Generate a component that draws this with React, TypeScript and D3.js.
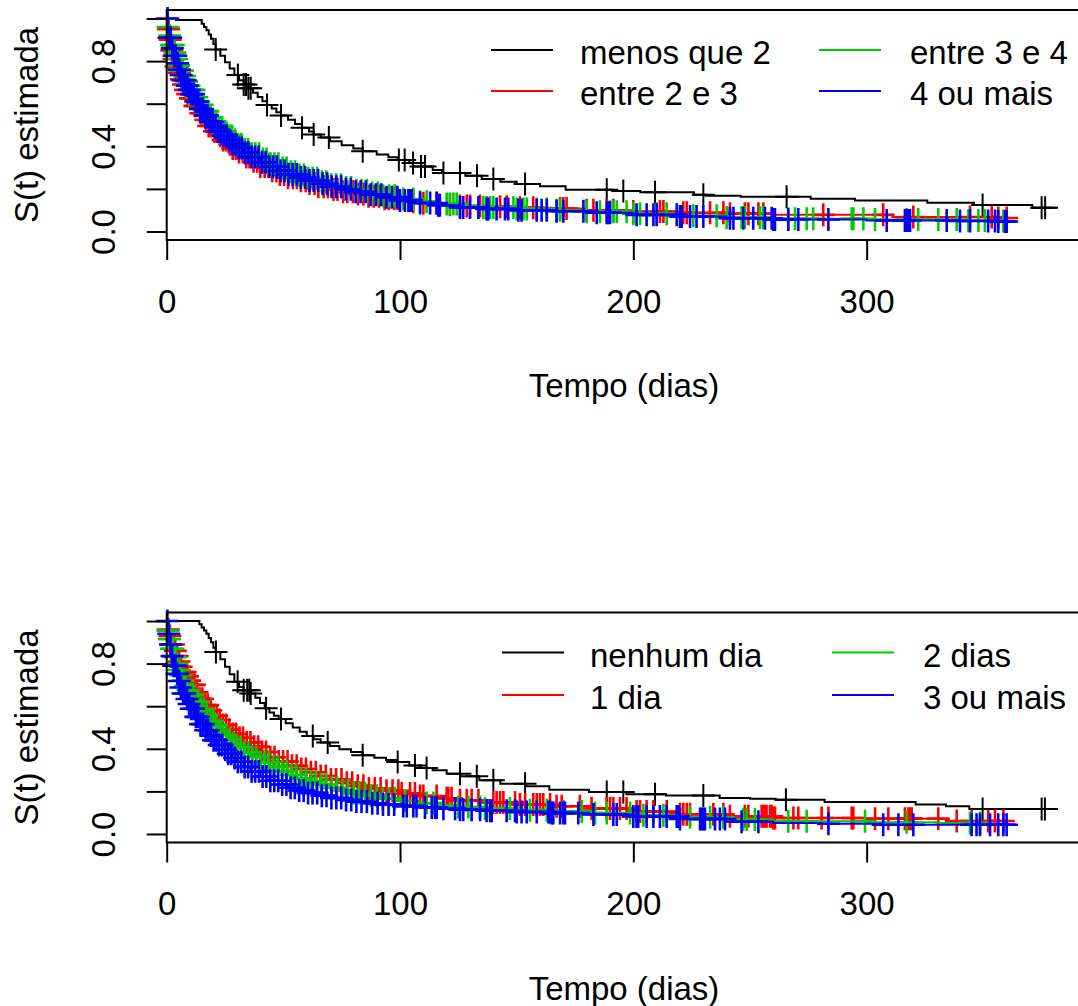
import React, { useRef, useEffect } from 'react';
import * as d3 from 'd3';

// ==================== DATA ====================
const X_TICKS = [0, 100, 200, 300];
const Y_TICKS = [0, 0.2, 0.4, 0.6, 0.8, 1.0];
const Y_LABELED = [0, 0.4, 0.8]; // R drops the overlapping ones
const X_MAX = 392;

const COLORS = ['#000000', '#FF0000', '#00CD00', '#0000FF'];
const TOP_LABELS = ['menos que 2', 'entre 2 e 3', 'entre 3 e 4', '4 ou mais'];
const BOTTOM_LABELS = ['nenhum dia', '1 dia', '2 dias', '3 ou mais'];

// Kaplan-Meier steps, [tempo, S(t)]
const TOP_BLACK = [[0, 1], [4, 0.993], [15, 0.975], [16, 0.96], [17, 0.945], [18, 0.925], [19, 0.905], [20, 0.88], [21, 0.855], [23, 0.825], [25, 0.795], [27, 0.765], [29, 0.735], [31, 0.71], [33, 0.69], [35, 0.672], [37, 0.652], [39, 0.632], [41, 0.612], [43, 0.594], [45, 0.577], [47, 0.56], [49, 0.545], [52, 0.525], [55, 0.505], [58, 0.487], [61, 0.469], [63, 0.455], [66, 0.441], [70, 0.424], [75, 0.405], [80, 0.39], [84, 0.377], [90, 0.362], [95, 0.348], [99, 0.336], [104, 0.322], [109, 0.305], [114, 0.289], [118, 0.275], [128, 0.262], [135, 0.247], [143, 0.234], [150, 0.223], [160, 0.212], [171, 0.196], [191, 0.19], [203, 0.184], [226, 0.173], [231, 0.168], [246, 0.163], [276, 0.154], [295, 0.146], [326, 0.135], [346, 0.124], [371, 0.112]];
const TOP_RED = [[0, 1], [0.5, 0.95], [1, 0.9], [2, 0.85], [3, 0.81], [4, 0.775], [5, 0.745], [6, 0.715], [7, 0.69], [8, 0.665], [9, 0.645], [10, 0.625], [12, 0.59], [14, 0.555], [16, 0.525], [18, 0.495], [20, 0.47], [22, 0.45], [24, 0.43], [26, 0.41], [28, 0.39], [30, 0.373], [33, 0.35], [36, 0.33], [40, 0.305], [44, 0.285], [48, 0.267], [52, 0.252], [56, 0.238], [60, 0.225], [65, 0.21], [70, 0.197], [75, 0.186], [80, 0.176], [86, 0.165], [92, 0.154], [100, 0.14], [108, 0.132], [116, 0.125], [125, 0.12], [135, 0.116], [150, 0.112], [165, 0.108], [180, 0.1], [200, 0.094], [220, 0.088], [240, 0.083], [260, 0.078], [311, 0.068], [355, 0.063]];
const TOP_GREEN = [[0, 1], [0.5, 0.96], [1, 0.92], [2, 0.875], [3, 0.84], [4, 0.81], [5, 0.78], [6, 0.755], [7, 0.73], [8, 0.705], [9, 0.685], [10, 0.665], [12, 0.63], [14, 0.595], [16, 0.565], [18, 0.535], [20, 0.51], [22, 0.49], [24, 0.47], [26, 0.45], [28, 0.43], [30, 0.41], [33, 0.385], [36, 0.365], [40, 0.34], [44, 0.318], [48, 0.298], [52, 0.28], [56, 0.265], [60, 0.25], [65, 0.234], [70, 0.219], [75, 0.206], [80, 0.194], [86, 0.181], [92, 0.168], [100, 0.152], [108, 0.14], [116, 0.129], [125, 0.12], [135, 0.113], [150, 0.106], [165, 0.1], [180, 0.093], [200, 0.083], [220, 0.074], [240, 0.066], [260, 0.06], [300, 0.056], [340, 0.052], [358, 0.049]];
const TOP_BLUE = [[0, 1], [0.5, 0.955], [1, 0.91], [2, 0.86], [3, 0.825], [4, 0.79], [5, 0.76], [6, 0.735], [7, 0.71], [8, 0.685], [9, 0.665], [10, 0.645], [12, 0.61], [14, 0.575], [16, 0.545], [18, 0.515], [20, 0.49], [22, 0.47], [24, 0.45], [26, 0.43], [28, 0.41], [30, 0.392], [33, 0.37], [36, 0.35], [40, 0.325], [44, 0.304], [48, 0.285], [52, 0.268], [56, 0.253], [60, 0.239], [65, 0.224], [70, 0.21], [75, 0.198], [80, 0.186], [86, 0.173], [92, 0.161], [100, 0.146], [108, 0.134], [116, 0.123], [125, 0.113], [135, 0.106], [150, 0.1], [165, 0.095], [180, 0.088], [200, 0.078], [220, 0.07], [240, 0.062], [260, 0.056], [300, 0.052], [340, 0.049], [356, 0.047]];
const TOP_ENDS = [382, 363, 364, 364];

const BOTTOM_BLACK = [[0, 1], [14, 0.985], [15, 0.97], [16, 0.955], [17, 0.94], [18, 0.92], [19, 0.9], [20, 0.875], [21, 0.855], [23, 0.82], [25, 0.785], [27, 0.75], [29, 0.715], [31, 0.69], [33, 0.675], [36, 0.66], [38, 0.64], [40, 0.615], [42, 0.59], [44, 0.57], [46, 0.555], [48, 0.54], [51, 0.52], [54, 0.5], [57, 0.48], [60, 0.46], [63, 0.445], [66, 0.43], [70, 0.413], [74, 0.398], [79, 0.385], [84, 0.37], [89, 0.358], [94, 0.347], [99, 0.338], [104, 0.322], [109, 0.31], [114, 0.299], [120, 0.283], [126, 0.271], [134, 0.252], [143, 0.236], [154, 0.224], [164, 0.208], [181, 0.197], [197, 0.186], [214, 0.181], [237, 0.169], [250, 0.166], [261, 0.161], [282, 0.15], [321, 0.139], [334, 0.13], [344, 0.117]];
const BOTTOM_RED = [[0, 1], [0.5, 0.96], [1, 0.93], [2, 0.89], [3, 0.86], [4, 0.835], [5, 0.81], [6, 0.785], [7, 0.76], [8, 0.74], [9, 0.72], [10, 0.7], [12, 0.665], [14, 0.635], [16, 0.605], [18, 0.58], [20, 0.555], [22, 0.535], [24, 0.512], [26, 0.49], [28, 0.47], [30, 0.452], [33, 0.43], [36, 0.41], [40, 0.385], [44, 0.36], [48, 0.34], [52, 0.32], [56, 0.305], [60, 0.29], [65, 0.272], [70, 0.256], [75, 0.24], [80, 0.226], [86, 0.213], [92, 0.203], [100, 0.19], [108, 0.178], [116, 0.168], [125, 0.158], [135, 0.148], [150, 0.138], [165, 0.13], [180, 0.12], [200, 0.105], [220, 0.093], [240, 0.083], [260, 0.075], [300, 0.072], [334, 0.061]];
const BOTTOM_GREEN = [[0, 1], [0.5, 0.955], [1, 0.915], [2, 0.87], [3, 0.83], [4, 0.8], [5, 0.77], [6, 0.745], [7, 0.72], [8, 0.695], [9, 0.675], [10, 0.655], [12, 0.62], [14, 0.587], [16, 0.557], [18, 0.53], [20, 0.507], [22, 0.485], [24, 0.465], [26, 0.445], [28, 0.425], [30, 0.407], [33, 0.383], [36, 0.362], [40, 0.337], [44, 0.315], [48, 0.295], [52, 0.277], [56, 0.261], [60, 0.247], [65, 0.232], [70, 0.217], [75, 0.204], [80, 0.192], [86, 0.18], [92, 0.168], [100, 0.156], [108, 0.145], [116, 0.136], [125, 0.127], [135, 0.12], [150, 0.112], [165, 0.106], [180, 0.098], [200, 0.088], [220, 0.078], [240, 0.068], [260, 0.06], [300, 0.055], [330, 0.052]];
const BOTTOM_BLUE = [[0, 1], [0.5, 0.94], [1, 0.89], [2, 0.835], [3, 0.79], [4, 0.752], [5, 0.718], [6, 0.688], [7, 0.66], [8, 0.634], [9, 0.61], [10, 0.588], [12, 0.55], [14, 0.516], [16, 0.487], [18, 0.462], [20, 0.44], [22, 0.418], [24, 0.397], [26, 0.377], [28, 0.357], [30, 0.339], [33, 0.315], [36, 0.294], [40, 0.27], [44, 0.25], [48, 0.232], [52, 0.217], [56, 0.204], [60, 0.193], [65, 0.18], [70, 0.169], [75, 0.16], [80, 0.152], [86, 0.144], [92, 0.138], [100, 0.131], [108, 0.124], [116, 0.119], [125, 0.114], [135, 0.109], [150, 0.103], [165, 0.098], [180, 0.092], [200, 0.082], [220, 0.07], [240, 0.058], [260, 0.052], [280, 0.048], [307, 0.043]];
const BOTTOM_ENDS = [382, 363, 350, 364];

// censored times (the + marks)
const TOP_BLACK_CENS = [21, 30.5, 33, 34, 35, 36, 43, 49, 58, 63, 69.5, 84, 99.5, 102, 105.6, 109, 110.7, 118.6, 125.7, 133, 140, 153.6, 188.6, 195.7, 209.3, 230, 265.7, 349.7, 375, 376.5];
const TOP_RED_CENS = [0.8, 1.5, 2.2, 3.1, 4, 4.6, 5.5, 6.3, 7.2, 8.1, 9, 10.2, 11.3, 12.1, 13.4, 14.6, 15.5, 16.8, 18, 19.1, 20.5, 21.7, 23, 24.2, 25.6, 27, 28.3, 29.7, 31, 32.6, 34.1, 35.5, 37.2, 38.8, 40.1, 42, 43.6, 45.2, 47, 48.5, 50.3, 52, 54.1, 55.8, 57.5, 59.6, 61.2, 63.4, 65, 67.3, 69.1, 71.5, 73.2, 75.6, 77.4, 79.8, 82, 84.3, 86.5, 88.7, 91, 93.4, 95.2, 97.6, 99, 105.7, 110, 115.7, 121.4, 125.7, 128.6, 130, 134.3, 142.9, 145.7, 151.4, 157.1, 168.6, 170, 171.4, 180, 182.9, 188.6, 191.4, 200, 211.4, 212.9, 221.4, 222.9, 232.9, 238.6, 241.4, 247.8, 249.3, 253.6, 255.7, 281.4, 307.1, 320, 344.3, 353.6, 356.4, 360];
const TOP_GREEN_CENS = [0.6, 1.3, 2, 2.8, 3.5, 4.3, 5.1, 6, 6.8, 7.7, 8.5, 9.6, 10.8, 11.7, 12.9, 14, 15.2, 16.3, 17.6, 18.7, 20, 21.3, 22.5, 23.8, 25.1, 26.4, 27.8, 29.2, 30.5, 32, 33.4, 34.9, 36.5, 38, 39.6, 41.2, 42.8, 44.5, 46.2, 47.9, 49.7, 51.4, 53.3, 55, 56.9, 58.8, 60.7, 62.6, 64.5, 66.5, 68.4, 70.5, 72.6, 74.7, 76.9, 79, 81.3, 83.5, 85.8, 88.1, 90.5, 92.8, 95.3, 97.7, 101.4, 105.7, 108.6, 111.4, 120, 121.4, 122.9, 124.3, 135.7, 137.1, 138.6, 140, 148.6, 150, 152.9, 154.3, 158.6, 162.9, 167.1, 168.6, 180, 185.7, 190, 191.4, 192.9, 197.1, 200, 202.9, 210, 214.3, 225.7, 235.7, 240, 246.4, 247.8, 254.3, 255.7, 266.4, 269.3, 274.3, 277.1, 293.6, 294.3, 298.6, 303.6, 317.1, 322.1, 330.7, 338.6, 343.6, 347.9, 350.7, 358.6];
const TOP_BLUE_CENS = [0.4, 1, 1.7, 2.4, 3.2, 3.9, 4.7, 5.4, 6.2, 7, 7.9, 8.8, 9.7, 10.6, 11.5, 12.5, 13.5, 14.4, 15.4, 16.5, 17.5, 18.6, 19.7, 20.9, 22, 23.2, 24.4, 25.7, 26.9, 28.2, 29.5, 30.9, 32.2, 33.6, 35, 36.4, 37.9, 39.4, 40.9, 42.4, 44, 45.6, 47.2, 48.8, 50.5, 52.2, 54, 55.7, 57.5, 59.3, 61.2, 63, 64.9, 66.8, 68.8, 70.7, 72.7, 74.8, 76.8, 78.9, 81, 83.1, 85.3, 87.4, 89.7, 91.9, 94.2, 96.5, 98.8, 100, 102.1, 103.6, 104.3, 105, 108.6, 112.9, 115.7, 116.4, 117.1, 125.7, 127.1, 130, 133.6, 137.1, 137.9, 141.4, 145, 146.4, 150.7, 152.1, 158.6, 160.7, 162.9, 167.1, 170, 178.6, 184.3, 188.6, 189.3, 190, 201.4, 205.7, 208.6, 210, 218.6, 220, 220.7, 224.3, 227.1, 230, 241.4, 242.9, 247.1, 251.4, 256.4, 259.3, 260, 260.7, 266.4, 270.7, 283.6, 308.6, 316.4, 317.1, 317.9, 318.6, 334.3, 340, 344.3, 352.1, 355, 356.4, 359.3, 360];

const BOTTOM_BLACK_CENS = [21.1, 30.4, 33, 34.5, 35.4, 36, 42.6, 49, 62.6, 69, 84, 99, 106.4, 111.4, 125.7, 132.9, 140, 153.6, 188.6, 195.7, 209.3, 230, 265.4, 349.7, 375, 376.4];
const BOTTOM_RED_CENS = [0.7, 1.4, 2.1, 2.9, 3.7, 4.5, 5.3, 6.2, 7, 7.9, 8.9, 9.8, 10.9, 11.9, 13, 14.1, 15.3, 16.4, 17.6, 18.9, 20.1, 21.4, 22.7, 24, 25.4, 26.8, 28.2, 29.7, 31.2, 32.7, 34.3, 35.9, 37.5, 39.2, 40.9, 42.6, 44.4, 46.2, 48, 49.9, 51.8, 53.7, 55.7, 57.7, 59.7, 61.8, 63.9, 66, 68.2, 70.4, 72.6, 74.9, 77.2, 79.5, 81.9, 84.3, 86.7, 89.2, 91.7, 94.2, 96.8, 99.3, 100.7, 104.3, 106.4, 108.6, 110, 115.7, 120, 120.7, 122.1, 125.7, 128.6, 130.7, 133.6, 140, 141.4, 142.9, 144.3, 149.3, 151.4, 153.6, 157.1, 158.6, 160, 161.4, 164.3, 167.1, 169.3, 177.1, 182.1, 188.6, 190, 191.4, 194.3, 197.1, 201.4, 202.9, 205.7, 208.6, 214.3, 220, 221.4, 222.9, 224.3, 234.3, 238.6, 241.4, 247.8, 249.3, 255, 255.7, 256.4, 257.1, 258.6, 259.3, 260, 260.7, 268.6, 270.7, 280.7, 283.6, 293.6, 294.3, 303.6, 309.3, 316.4, 317.9, 318.6, 319.3, 330.7, 338.6, 345, 352.1, 355, 358.6];
const BOTTOM_GREEN_CENS = [0.5, 1.2, 2, 2.7, 3.6, 4.4, 5.2, 6.1, 7.1, 8, 9.1, 10.1, 11.2, 12.3, 13.5, 14.7, 15.9, 17.2, 18.5, 19.8, 21.2, 22.6, 24, 25.5, 27, 28.5, 30.1, 31.7, 33.3, 35, 36.7, 38.4, 40.2, 42, 43.8, 45.7, 47.6, 49.5, 51.5, 53.5, 55.5, 57.6, 59.7, 61.8, 64, 66.2, 68.4, 70.7, 73, 75.3, 77.7, 80.1, 82.5, 85, 87.5, 90, 92.6, 95.2, 97.8, 102.1, 111.4, 114.3, 125, 129.3, 134.3, 136.4, 147.1, 155.7, 162.9, 170, 177.9, 183.6, 188.6, 198.6, 204.3, 212.9, 224.3, 232.9, 238.6, 247.1, 248.6, 252.1, 266.4, 274.3, 299.3, 317.1, 344.3, 348.6];
const BOTTOM_BLUE_CENS = [0.3, 0.9, 1.6, 2.3, 3, 3.8, 4.5, 5.3, 6.1, 7, 7.8, 8.7, 9.6, 10.5, 11.5, 12.5, 13.5, 14.5, 15.6, 16.7, 17.8, 18.9, 20.1, 21.3, 22.5, 23.8, 25.1, 26.4, 27.7, 29.1, 30.5, 31.9, 33.4, 34.9, 36.4, 37.9, 39.5, 41.1, 42.7, 44.4, 46.1, 47.8, 49.5, 51.3, 53.1, 54.9, 56.8, 58.7, 60.6, 62.5, 64.5, 66.5, 68.5, 70.6, 72.7, 74.8, 76.9, 79.1, 81.3, 83.5, 85.8, 88.1, 90.4, 92.7, 95.1, 97.5, 101.4, 102.9, 105.7, 107.1, 110.7, 113.6, 115, 115.7, 118.6, 123.6, 125.7, 127.1, 130.7, 134.3, 137.1, 138.6, 139.3, 145.7, 149.3, 150, 152.1, 154.3, 158.6, 163.6, 164.3, 165, 165.7, 168.6, 170, 170.7, 176.4, 182.9, 191.4, 192.9, 200, 201.4, 202.1, 205.7, 208.6, 211.4, 214.3, 218.6, 219.3, 220, 228.6, 229.3, 230, 230.7, 235, 237.1, 239.3, 246.4, 253.6, 283.6, 307.1, 313.6, 320, 345, 347.1, 348.6, 352.9, 356.4, 358.6, 360];

// ==================== LAYOUT ====================
const W = 1078;
const H = 1006;
const PLOT_LEFT = 166.7;
const PLOT_RIGHT = 1081.3;
const PLOT_H = 230;
const FONT = "'Liberation Sans', Arial, Helvetica, sans-serif";
const FS = 33;

const PANELS = [
    {
        top: 10,
        labels: TOP_LABELS,
        steps: [TOP_BLACK, TOP_RED, TOP_GREEN, TOP_BLUE],
        ends: TOP_ENDS,
        cens: [TOP_BLACK_CENS, TOP_RED_CENS, TOP_GREEN_CENS, TOP_BLUE_CENS],
        legLineX: [491, 819],
        legTextX: [580, 910],
        legRowY: [40, 81]
    },
    {
        top: 612.5,
        labels: BOTTOM_LABELS,
        steps: [BOTTOM_BLACK, BOTTOM_RED, BOTTOM_GREEN, BOTTOM_BLUE],
        ends: BOTTOM_ENDS,
        cens: [BOTTOM_BLACK_CENS, BOTTOM_RED_CENS, BOTTOM_GREEN_CENS, BOTTOM_BLUE_CENS],
        legLineX: [502, 832],
        legTextX: [590, 923],
        legRowY: [40, 82.5]
    }
];

const bisectT = d3.bisector((d: number[]) => d[0]).right;
const survAt = (steps: number[][], t: number) => {
    const i = Math.max(0, bisectT(steps, t) - 1);
    return steps[i][1];
};

const App = () => {
    const svgRef = useRef<SVGSVGElement>(null);

    useEffect(() => {
        const svg = d3.select(svgRef.current);
        svg.selectAll('*').remove();

        const x = d3.scaleLinear().domain([0, X_MAX]).range([PLOT_LEFT, PLOT_RIGHT]);

        PANELS.forEach(panel => {
            const top = panel.top;
            const bottom = top + PLOT_H;
            const y = d3.scaleLinear().domain([-0.04, 1.04]).range([bottom, top]);
            const g = svg.append('g');

            // curves, drawn in R order: black, red, green, blue
            const line = d3.line<number[]>()
                .x(d => x(d[0]))
                .y(d => y(d[1]))
                .curve(d3.curveStepAfter);

            panel.steps.forEach((steps, k) => {
                const last = steps[steps.length - 1][1];
                const pts = [...steps, [panel.ends[k], last]];
                g.append('path')
                    .attr('d', line(pts))
                    .attr('fill', 'none')
                    .attr('stroke', COLORS[k])
                    .attr('stroke-width', 2);

                // censor marks (pch = 3)
                g.append('g')
                    .selectAll('path')
                    .data(panel.cens[k])
                    .join('path')
                    .attr('d', t => {
                        const cx = x(t);
                        const cy = y(survAt(steps, t));
                        return `M${cx - 11.5},${cy}H${cx + 11.5}M${cx},${cy - 11.5}V${cy + 11.5}`;
                    })
                    .attr('fill', 'none')
                    .attr('stroke', COLORS[k])
                    .attr('stroke-width', k === 0 ? 2 : 2.6);
            });

            // box
            g.append('rect')
                .attr('x', PLOT_LEFT)
                .attr('y', top)
                .attr('width', PLOT_RIGHT - PLOT_LEFT)
                .attr('height', PLOT_H)
                .attr('fill', 'none')
                .attr('stroke', '#000')
                .attr('stroke-width', 2);

            // x axis
            const xAxis = g.append('g')
                .attr('transform', `translate(0,${bottom})`)
                .call(d3.axisBottom(x).tickValues(X_TICKS).tickSize(20).tickSizeOuter(0).tickPadding(29.5));
            xAxis.select('.domain').remove();
            xAxis.selectAll('line').attr('stroke', '#000').attr('stroke-width', 2);
            xAxis.selectAll('text')
                .attr('font-family', FONT)
                .attr('font-size', FS)
                .attr('fill', '#000');

            // y axis
            const yAxis = g.append('g')
                .attr('transform', `translate(${PLOT_LEFT},0)`)
                .call(d3.axisLeft(y).tickValues(Y_TICKS).tickSize(20).tickSizeOuter(0)
                    .tickFormat(d => (Y_LABELED.includes(+d) ? d3.format('.1f')(+d) : '')));
            yAxis.select('.domain').remove();
            yAxis.selectAll('line').attr('stroke', '#000').attr('stroke-width', 2);
            yAxis.selectAll('text')
                .attr('x', null)
                .attr('dy', null)
                .attr('text-anchor', 'middle')
                .attr('transform', 'translate(-51.7,0) rotate(-90)')
                .attr('font-family', FONT)
                .attr('font-size', FS)
                .attr('fill', '#000');

            // axis titles
            g.append('text')
                .attr('x', (PLOT_LEFT + PLOT_RIGHT) / 2)
                .attr('y', bottom + 157)
                .attr('text-anchor', 'middle')
                .attr('font-family', FONT)
                .attr('font-size', FS)
                .text('Tempo (dias)');

            g.append('text')
                .attr('transform', `translate(37.5,${(top + bottom) / 2}) rotate(-90)`)
                .attr('text-anchor', 'middle')
                .attr('font-family', FONT)
                .attr('font-size', FS)
                .text('S(t) estimada');

            // legend, two columns, no box
            const leg = g.append('g');
            panel.labels.forEach((label, k) => {
                const col = Math.floor(k / 2);
                const row = k % 2;
                const ly = top + panel.legRowY[row];
                leg.append('line')
                    .attr('x1', panel.legLineX[col])
                    .attr('x2', panel.legLineX[col] + 62)
                    .attr('y1', ly)
                    .attr('y2', ly)
                    .attr('stroke', COLORS[k])
                    .attr('stroke-width', 2);
                leg.append('text')
                    .attr('x', panel.legTextX[col])
                    .attr('y', ly + 14)
                    .attr('font-family', FONT)
                    .attr('font-size', FS)
                    .attr('fill', '#000')
                    .text(label);
            });
        });
    }, []);

    return (
        <svg
            ref={svgRef}
            width={W}
            height={H}
            style={{ position: 'absolute', left: 0, top: 0, background: '#fff', display: 'block' }}
        />
    );
};

export default App;
